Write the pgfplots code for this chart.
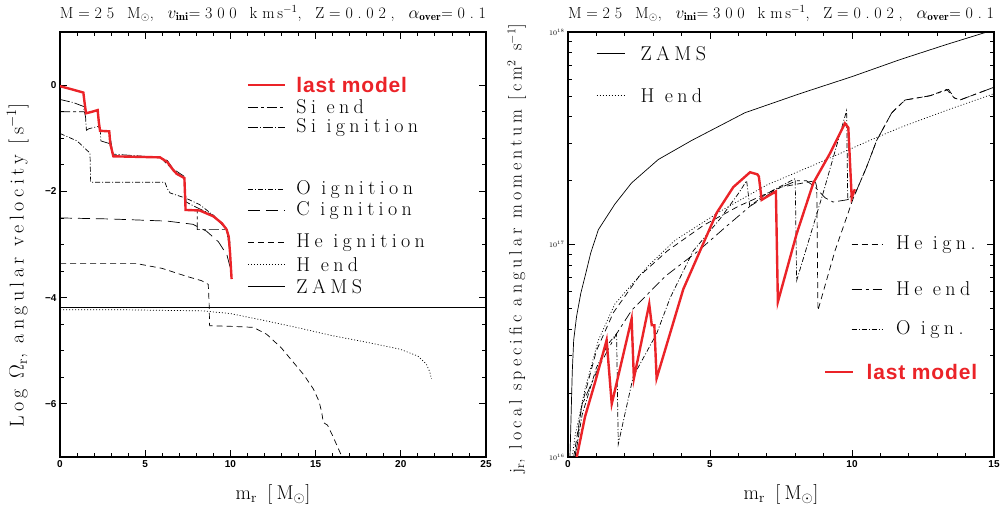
\documentclass[border=0pt]{standalone}
\usepackage{fontspec}
\setsansfont{Liberation Sans}
\newfontfamily\spaced[LetterSpace=22]{Latin Modern Roman}
\newfontfamily\tspaced[LetterSpace=30]{Latin Modern Roman}
\newfontfamily\sspaced[LetterSpace=4]{Liberation Sans}
\usepackage{pgfplots}
\pgfplotsset{compat=1.18}
\definecolor{lred}{RGB}{235,35,40}
\newcommand{\ttl}{\makebox[426pt][s]{\fontsize{16}{18}\selectfont\tspaced M=25 M$_\odot$, $v_{\mathbf{ini}}$=300 km\,s$^{-1}$, Z=0.02, $\alpha_{\mathbf{over}}$=0.1}}
\pgfplotsset{myax/.style={
  scale only axis, width=426pt, height=425pt, anchor=south west,
  axis line style={line width=1.1pt},
  every tick/.style={line width=0.8pt, black},
  major tick length=7pt, minor tick length=4pt,
  tick align=inside, xtick pos=both, ytick pos=both,
  tick label style={font=\fontsize{10}{11}\selectfont\sffamily\bfseries, /pgf/number format/assume math mode=true},
  title style={at={(0.5,1.0)}, anchor=south, yshift=2pt, inner sep=2pt},
  label style={font=\fontsize{20}{22}\selectfont\spaced},
  every axis plot/.append style={line width=0.7pt},
}}
\tikzset{
  silend/.style={black, dash pattern=on 10pt off 3pt on 3pt off 3pt},
  siign/.style={black, dash pattern=on 10pt off 2pt on 1pt off 2pt},
  oign/.style={black, dash pattern=on 5pt off 2pt on 1pt off 2pt},
  cign/.style={black, dash pattern=on 12pt off 6pt},
  heign/.style={black, dash pattern=on 6pt off 4pt},
  heend/.style={black, dash pattern=on 10pt off 4pt on 3pt off 4pt},
  hend/.style={black, dash pattern=on 1pt off 2pt},
  zams/.style={black, solid},
  lastm/.style={lred, line width=2.4pt, solid},
  legtxt/.style={anchor=west, font=\fontsize{20}{22}\selectfont\spaced},
  legred/.style={anchor=west, text=lred, font=\fontsize{21}{22}\selectfont\sspaced\bfseries},
}
\begin{document}
\begin{tikzpicture}[x=1pt,y=1pt]
\useasboundingbox (0,0) rectangle (1007,511);
% ---------------- left panel ----------------
\begin{axis}[myax, at={(60pt,54pt)},
  xmin=0, xmax=25, ymin=-7, ymax=1,
  xtick={0,5,10,15,20,25}, minor x tick num=4,
  ytick={-6,-4,-2,0}, yticklabels={−6,−4,−2,0}, minor y tick num=3,
  title={\ttl},
  xlabel={m$_{\mathrm r}$ [M$_\odot$]},
  xlabel style={at={(axis description cs:0.5,-0.089)}, anchor=center},
  ylabel={Log $\Omega_{\mathrm r}$, angular velocity [s$^{-1}$]},
  ylabel style={at={(axis description cs:-0.099,0.45)}, anchor=center, rotate=0},
]
% ZAMS
\addplot[zams] coordinates {(0,-4.19) (25,-4.19)};
% H end
\addplot[hend] coordinates {(0,-4.23) (4,-4.23) (8.4,-4.25) (10,-4.3) (12.13,-4.44) (14,-4.57) (16.04,-4.72) (18,-4.84) (19.95,-4.97) (21,-5.1) (21.5,-5.25) (21.7,-5.4) (21.8,-5.53)};
% He ignition
\addplot[heign] coordinates {(0,-3.36) (4.5,-3.36) (6,-3.45) (7.43,-3.6) (8.3,-3.68) (8.7,-3.75) (8.75,-4.1) (8.78,-4.53) (10,-4.54) (11.35,-4.56) (12.13,-4.69) (13,-4.95) (13.7,-5.22) (14.3,-5.45) (14.87,-5.72) (15.2,-5.95) (15.36,-6.16) (15.45,-6.35) (15.7,-6.4) (16.0,-6.6) (16.47,-6.94) (16.55,-7.0)};
% C ignition
\addplot[cign] coordinates {(0,-2.5) (3,-2.52) (6.3,-2.56) (7.8,-2.62) (8.6,-2.75) (9.3,-2.95) (9.8,-3.2) (10.0,-3.45)};
% O ignition
\addplot[oign] coordinates {(0,-0.91) (1.0,-1.05) (1.76,-1.28) (1.8,-1.83) (4,-1.83) (6.16,-1.83) (6.3,-1.95) (6.46,-2.03) (7.4,-2.13) (8.2,-2.25) (9.0,-2.45) (9.78,-2.72) (10.0,-3.2)};
% Si ignition
\addplot[siign] coordinates {(0,-0.27) (0.8,-0.33) (1.37,-0.4) (1.5,-0.6) (1.55,-0.85) (1.7,-0.82) (2.2,-0.78) (2.35,-0.8) (2.4,-1.05) (2.9,-1.1) (3.13,-1.3) (5.87,-1.36) (6.3,-1.42) (6.65,-1.58) (7.3,-1.72) (7.4,-2.2) (8.0,-2.3) (9.0,-2.45) (9.78,-2.7) (10.0,-3.0)};
% Si end
\addplot[silend] coordinates {(0,-0.5) (1.4,-0.5) (1.53,-0.53) (2.21,-0.47) (2.35,-0.86) (2.89,-0.87) (3.13,-1.34) (5.87,-1.36) (6.65,-1.6) (7.3,-1.75) (7.37,-2.35) (8.05,-2.36) (8.05,-2.72) (9.0,-2.72) (9.78,-2.72) (10.0,-3.1)};
% last model
\addplot[lastm] coordinates {(0,-0.02) (0.7,-0.08) (1.37,-0.14) (1.45,-0.35) (1.53,-0.53) (1.9,-0.5) (2.21,-0.47) (2.28,-0.7) (2.35,-0.86) (2.89,-0.87) (2.95,-1.1) (3.13,-1.34) (4.5,-1.35) (5.87,-1.36) (6.3,-1.45) (6.65,-1.6) (6.85,-1.67) (7.3,-1.75) (7.37,-2.35) (8.2,-2.36) (9.0,-2.47) (9.5,-2.6) (9.78,-2.72) (9.9,-2.85) (9.98,-3.16) (10.07,-3.65)};
% legend
\draw[lastm] (axis cs:11.03,0) -- (axis cs:13.2,0);
\node[legred] at (axis cs:13.67,0) {last model};
\draw[silend, line width=0.7pt] (axis cs:11.03,-0.41) -- (axis cs:13.2,-0.41);
\node[legtxt] at (axis cs:13.67,-0.41) {Si end};
\draw[siign, line width=0.7pt] (axis cs:11.03,-0.79) -- (axis cs:13.2,-0.79);
\node[legtxt] at (axis cs:13.67,-0.79) {Si ignition};
\draw[oign, line width=0.7pt] (axis cs:11.03,-1.97) -- (axis cs:13.2,-1.97);
\node[legtxt] at (axis cs:13.67,-1.97) {O ignition};
\draw[cign, line width=0.7pt] (axis cs:11.03,-2.36) -- (axis cs:13.2,-2.36);
\node[legtxt] at (axis cs:13.67,-2.36) {C ignition};
\draw[heign, line width=0.7pt] (axis cs:11.03,-2.96) -- (axis cs:13.2,-2.96);
\node[legtxt] at (axis cs:13.67,-2.96) {He ignition};
\draw[hend, line width=0.7pt] (axis cs:11.03,-3.38) -- (axis cs:13.2,-3.38);
\node[legtxt] at (axis cs:13.67,-3.38) {H end};
\draw[zams, line width=0.7pt] (axis cs:11.03,-3.79) -- (axis cs:13.2,-3.79);
\node[legtxt] at (axis cs:13.67,-3.79) {ZAMS};
\end{axis}
% ---------------- right panel ----------------
\begin{axis}[myax, at={(568pt,54pt)},
  xmin=0, xmax=15, ymin=16, ymax=18,
  xtick={0,5,10,15}, minor x tick num=4,
  ytick={16,17,18}, yticklabels={10$^{16}$,10$^{17}$,10$^{18}$},
  yticklabel style={font=\fontsize{7}{8}\selectfont\rmfamily},
  minor ytick={16.30103,16.47712,16.60206,16.69897,16.77815,16.84510,16.90309,16.95424,17.30103,17.47712,17.60206,17.69897,17.77815,17.84510,17.90309,17.95424},
  title={\ttl},
  xlabel={m$_{\mathrm r}$ [M$_\odot$]},
  xlabel style={at={(axis description cs:0.5,-0.089)}, anchor=center},
  ylabel={j$_{\mathrm r}$, local specific angular momentum [cm$^2$ s$^{-1}$]},
  ylabel style={at={(axis description cs:-0.12,0.49)}, anchor=center, font=\fontsize{18}{20}\selectfont\spaced},
]
% ZAMS
\addplot[zams] coordinates {(0.07,16.0) (0.1,16.15) (0.15,16.4) (0.2,16.55) (0.3,16.66) (0.45,16.77) (0.6,16.85) (0.8,16.96) (1.07,17.07) (1.65,17.19) (2.24,17.29) (3.18,17.40) (4.36,17.49) (6.23,17.62) (8.17,17.71) (10,17.79) (11.69,17.87) (13.3,17.94) (14.75,18.0)};
% H end
\addplot[hend] coordinates {(0.15,16.0) (0.25,16.1) (0.6,16.32) (1.07,16.55) (1.65,16.72) (2.83,16.9) (3.77,17.02) (4.59,17.09) (5.41,17.16) (7,17.28) (8.76,17.38) (10.63,17.49) (11.69,17.55) (13.3,17.63) (15,17.71)};
% He ign.
\addplot[heign] coordinates {(0.2,16.0) (0.5,16.25) (1.0,16.5) (1.6,16.68) (2.5,16.85) (3.5,16.97) (4.77,17.09) (6,17.18) (7.5,17.27) (8.7,17.3) (8.76,17.27) (8.8,16.69) (9.4,16.97) (10.05,17.22) (10.5,17.36) (10.87,17.49) (11.4,17.62) (11.87,17.68) (12.75,17.70) (13.33,17.73) (13.6,17.69) (13.8,17.68) (14.4,17.71) (15,17.74)};
% He end
\addplot[heend] coordinates {(0.25,16.0) (0.48,16.24) (1.07,16.42) (1.71,16.58) (2.24,16.69) (3.42,16.85) (4.59,16.97) (5.53,17.08) (6.41,17.18) (7.35,17.26) (8.05,17.30) (8.4,17.30) (8.7,17.27) (9.05,17.22) (9.33,17.20) (9.81,17.21) (10.05,17.22) (10.5,17.36) (10.87,17.49) (11.4,17.62) (11.87,17.68) (12.75,17.70) (13.2,17.72) (13.4,17.73) (13.6,17.69) (13.8,17.68) (14.4,17.71) (15,17.74)};
% O ign.
\addplot[oign] coordinates {(0.25,16.0) (0.5,16.2) (1.0,16.42) (1.4,16.53) (1.71,16.58) (1.77,16.06) (2.0,16.2) (2.3,16.38) (3.12,16.58) (3.6,16.75) (4.41,16.97) (5.35,17.12) (6.0,17.24) (6.29,17.30) (6.4,17.18) (7,17.24) (8.0,17.31) (8.05,16.83) (9.0,17.25) (9.81,17.63) (9.85,17.21) (10.1,17.25)};
% last model
\addplot[lastm] coordinates {(0.31,16.0) (0.6,16.19) (0.95,16.35) (1.36,16.55) (1.54,16.25) (2.24,16.65) (2.32,16.37) (2.86,16.72) (2.95,16.62) (3.04,16.62) (3.12,16.37) (4.06,16.79) (4.65,16.97) (5.24,17.15) (5.82,17.27) (6.41,17.34) (6.67,17.33) (6.72,17.32) (6.82,17.21) (7.32,17.25) (7.39,16.73) (8.05,17.05) (8.64,17.29) (9.23,17.43) (9.75,17.57) (9.87,17.55) (9.99,17.22) (10.1,17.26)};
% legend
\draw[zams, line width=0.7pt] (axis cs:1.01,17.90) -- (axis cs:2.0,17.90);
\node[legtxt] at (axis cs:2.43,17.90) {ZAMS};
\draw[hend, line width=0.7pt] (axis cs:1.01,17.70) -- (axis cs:2.0,17.70);
\node[legtxt] at (axis cs:2.43,17.70) {H end};
\draw[heign, line width=0.7pt] (axis cs:9.99,17.0) -- (axis cs:11.05,17.0);
\node[legtxt] at (axis cs:11.43,17.0) {He ign.};
\draw[heend, line width=0.7pt] (axis cs:9.99,16.79) -- (axis cs:11.05,16.79);
\node[legtxt] at (axis cs:11.43,16.79) {He end};
\draw[oign, line width=0.7pt] (axis cs:9.99,16.60) -- (axis cs:11.05,16.60);
\node[legtxt] at (axis cs:11.43,16.60) {O ign.};
\draw[lastm] (axis cs:9.05,16.40) -- (axis cs:10.02,16.40);
\node[legred] at (axis cs:10.39,16.40) {last model};
\end{axis}
\end{tikzpicture}
\end{document}
